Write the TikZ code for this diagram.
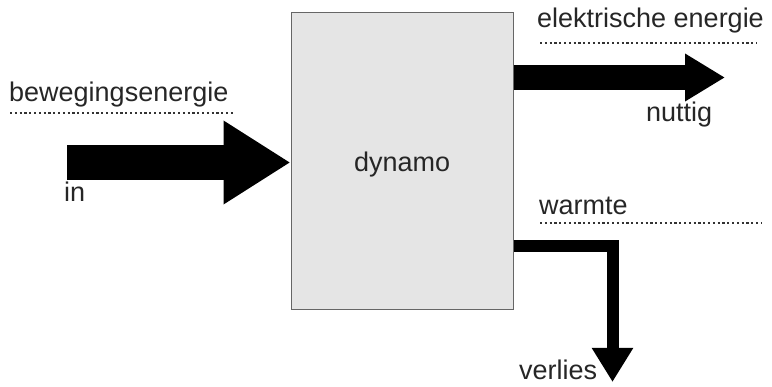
\documentclass[tikz,border=0pt]{standalone}
\usepackage{fontspec}
\setmainfont{Liberation Sans}
\usetikzlibrary{positioning, arrows.meta, calc}

\begin{document}
\begin{tikzpicture}[x=1pt, y=-1pt,
    box/.style={rectangle, draw=black!60, line width=1pt, fill=black!10,
                minimum width=222pt, minimum height=297pt,
                font=\fontsize{27}{31}\selectfont, text=black!85},
    lbl/.style={inner sep=0pt, anchor=base west,
                font=\fontsize{27}{31}\selectfont, text=black!85},
    dots/.style={line width=2.5pt, dash pattern=on 2.2pt off 2.6pt, black!80},
    flow/.style={line join=miter, draw=black}
]
    \useasboundingbox (0,0) rectangle (772,387);

    % === Dynamo block ===
    \node[box] (dynamo) at (402,161.5) {};
    \node[lbl] (dyntxt) at (354,172) {dynamo};

    % === Input: bewegingsenergie ===
    \coordinate (instart) at (67,162.5);
    \draw[flow, line width=35pt, -{Triangle[length=67pt, width=79pt]}]
        (instart) -- (dynamo.west |- instart);
    \node[lbl] (beweging) at (9,102) {bewegingsenergie};
    \draw[dots] (10,113) -- (235,113);
    \node[lbl] (in) at (64,202) {in};

    % === Output: elektrische energie ===
    \coordinate (elecend) at (725,77.5);
    \draw[flow, line width=25pt, -{Triangle[length=40pt, width=45pt]}]
        (dynamo.east |- elecend) -- (elecend);
    \node[lbl] (elektrisch) at (537,28) {elektrische energie};
    \draw[dots] (540,43) -- (757,43);
    \node[lbl] (nuttig) at (646,122) {nuttig};

    % === Output: warmte ===
    \coordinate (warmbend) at (612.5,246);
    \coordinate (warmend) at (612.5,382);
    \draw[flow, line width=12pt, -{Triangle[length=34pt, width=39pt]}]
        (dynamo.east |- warmbend) -- (warmbend) -- (warmend);
    \node[lbl] (warmte) at (539,215) {warmte};
    \draw[dots] (540,223) -- (762,223);
    \node[lbl] (verlies) at (519,380) {verlies};

\end{tikzpicture}
\end{document}
